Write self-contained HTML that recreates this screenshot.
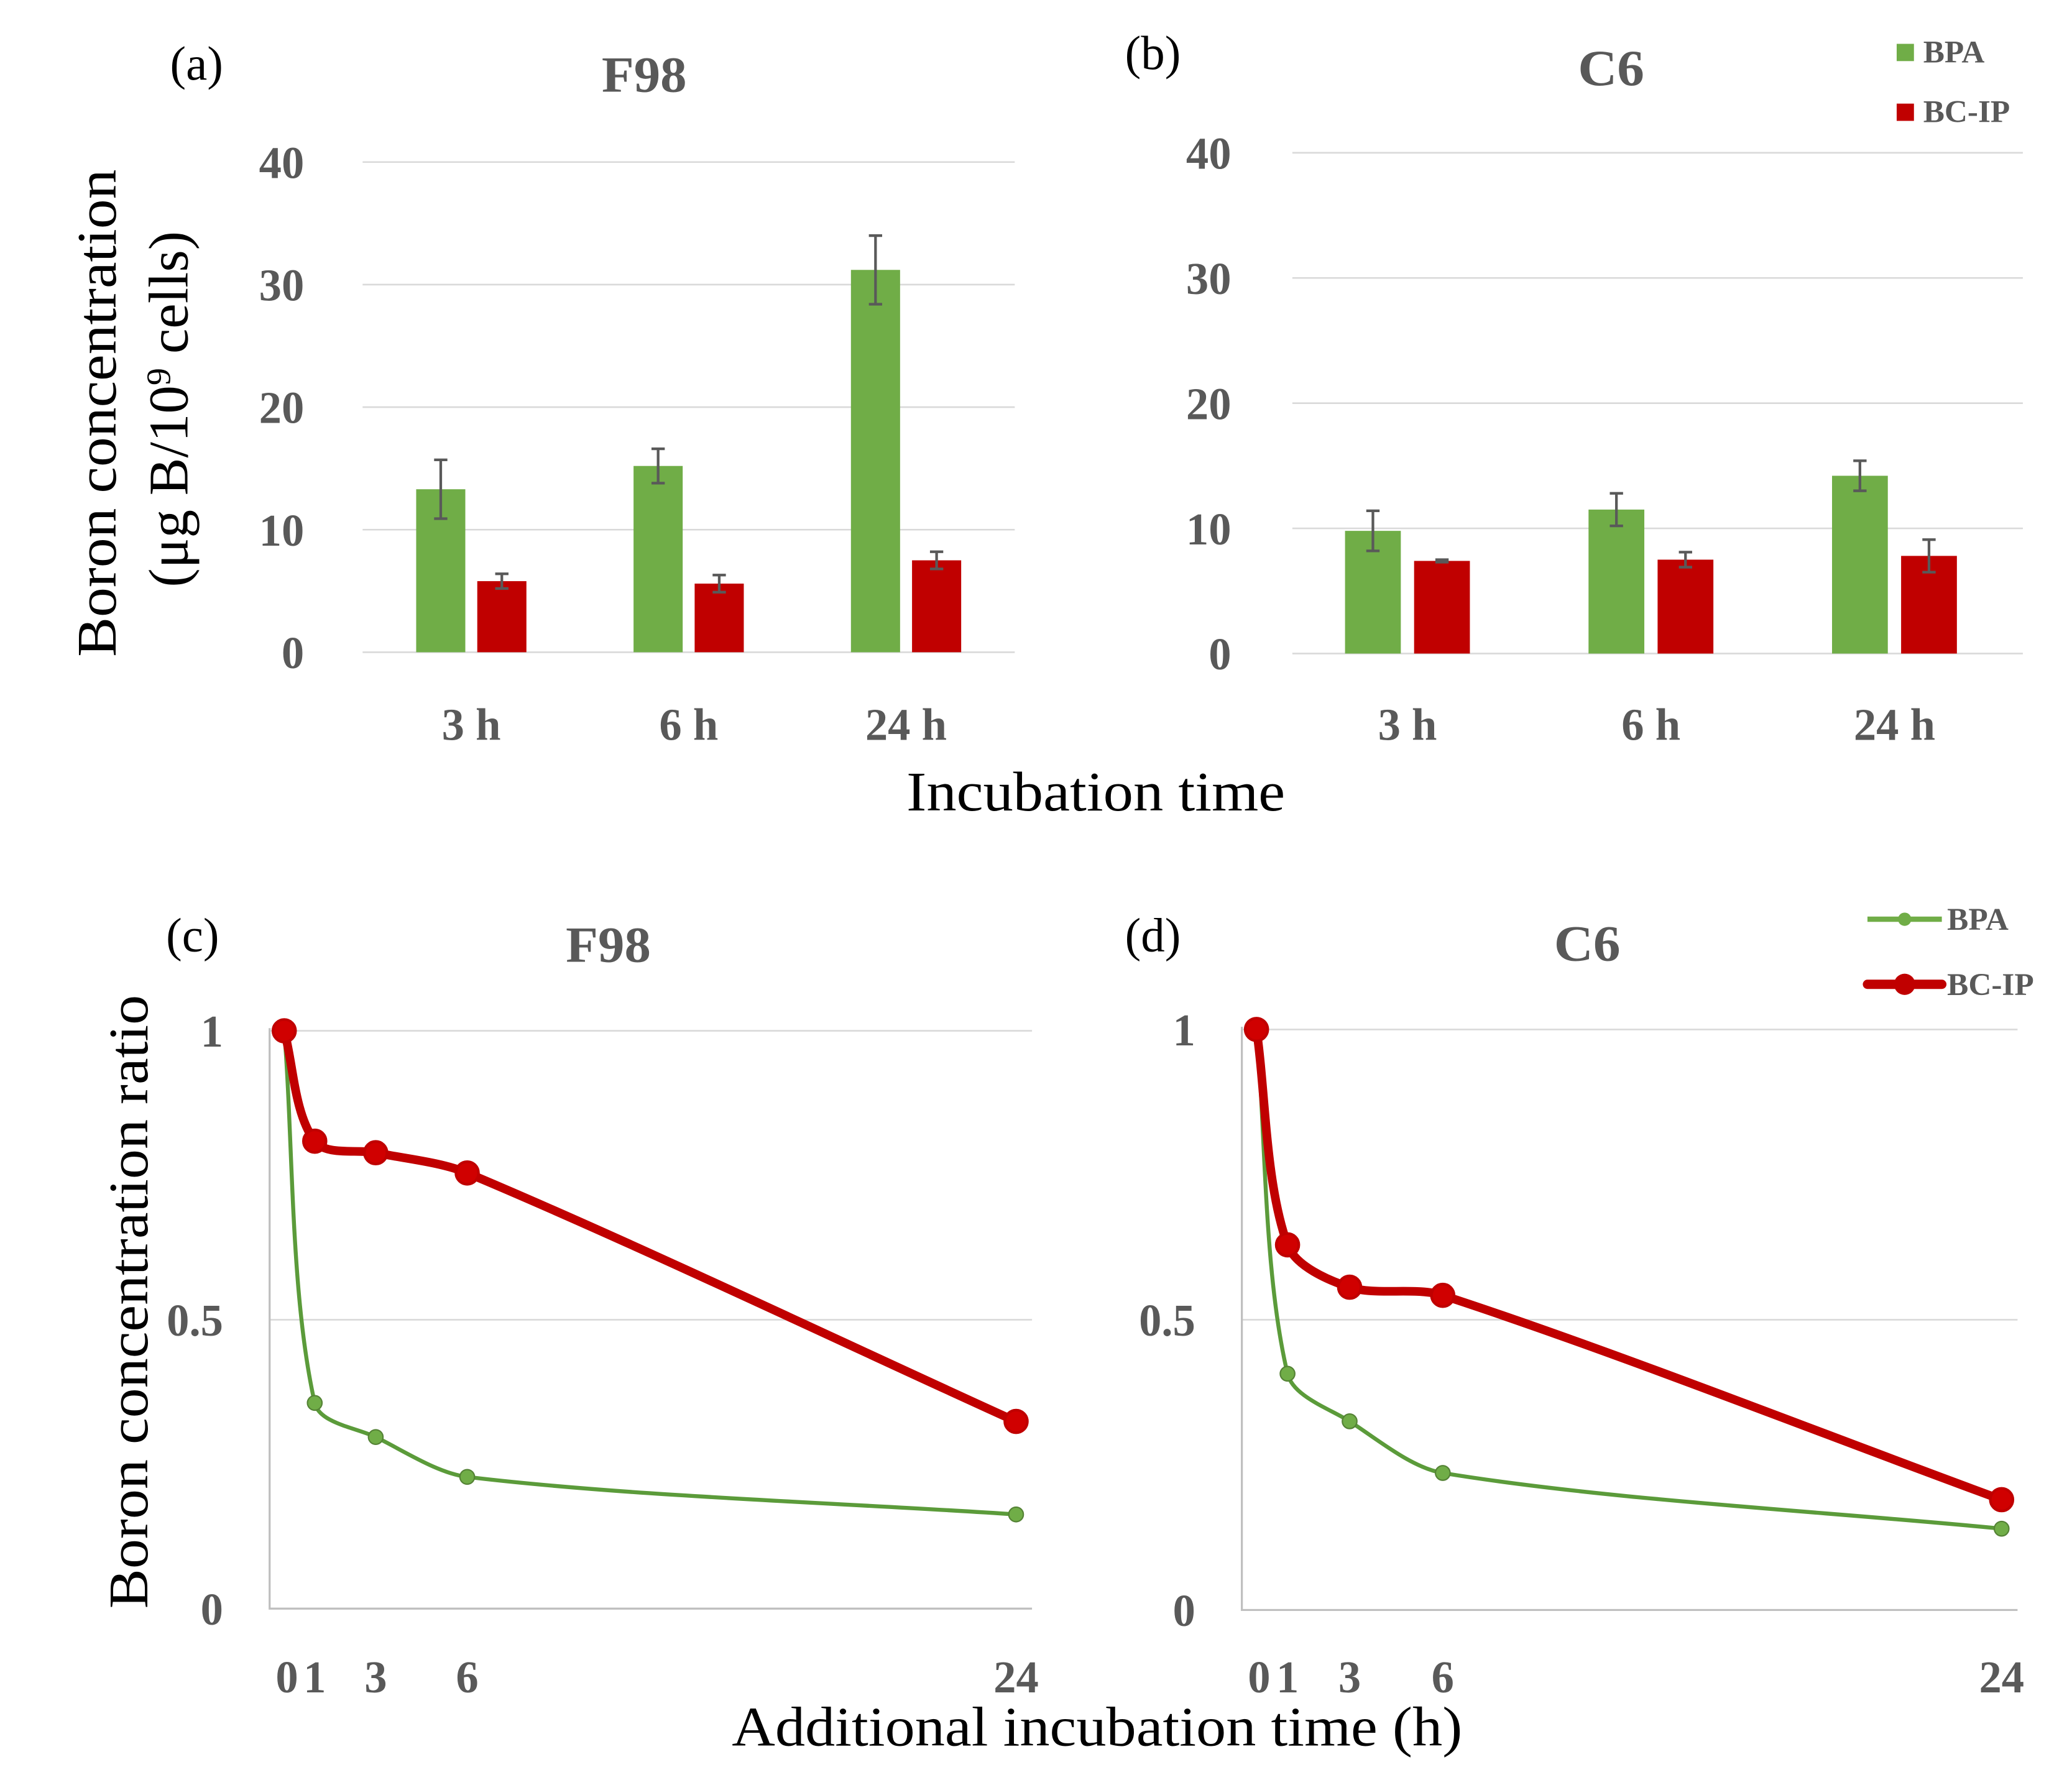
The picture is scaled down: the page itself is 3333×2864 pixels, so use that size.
<!DOCTYPE html>
<html><head><meta charset="utf-8"><style>
html,body{margin:0;padding:0;background:#fff;}
svg{display:block;}
.tk{font-family:"Liberation Serif",serif;font-weight:bold;fill:#595959;font-size:34px;}
.ttl{font-family:"Liberation Serif",serif;font-weight:bold;fill:#595959;font-size:38px;}
.lab{font-family:"Liberation Serif",serif;fill:#000;font-size:42px;}
.pl{font-family:"Liberation Serif",serif;fill:#000;font-size:36px;}
.lg{font-family:"Liberation Serif",serif;font-weight:bold;fill:#595959;font-size:24px;}
</style></head><body>
<svg id="fig" width="3333" height="2864" viewBox="0 0 1560 1340" preserveAspectRatio="none" xmlns="http://www.w3.org/2000/svg">
<g id="static">
<text class="pl" x="148" y="60" text-anchor="middle">(a)</text>
<text class="pl" x="868" y="52" text-anchor="middle">(b)</text>
<text class="pl" x="145" y="716" text-anchor="middle">(c)</text>
<text class="pl" x="868" y="716" text-anchor="middle">(d)</text>
<text class="ttl" x="485" y="69" text-anchor="middle" textLength="64" lengthAdjust="spacingAndGlyphs">F98</text>
<text class="ttl" x="1213" y="64" text-anchor="middle" textLength="50" lengthAdjust="spacingAndGlyphs">C6</text>
<text class="ttl" x="458" y="724" text-anchor="middle" textLength="64" lengthAdjust="spacingAndGlyphs">F98</text>
<text class="ttl" x="1195" y="723" text-anchor="middle" textLength="50" lengthAdjust="spacingAndGlyphs">C6</text>
<text class="lab" x="825" y="610" text-anchor="middle" textLength="285" lengthAdjust="spacingAndGlyphs">Incubation time</text>
<text class="lab" x="826" y="1314" text-anchor="middle" textLength="550" lengthAdjust="spacingAndGlyphs">Additional incubation time (h)</text>
<text class="lab" transform="translate(87,311) rotate(-90)" text-anchor="middle" textLength="367" lengthAdjust="spacingAndGlyphs">Boron concentration</text>
<text class="lab" transform="translate(141,308) rotate(-90)" text-anchor="middle" textLength="268" lengthAdjust="spacingAndGlyphs">(μg B/10<tspan dy="-13" font-size="26">9</tspan><tspan dy="13"> cells)</tspan></text>
<text class="lab" transform="translate(111,980) rotate(-90)" text-anchor="middle" textLength="462" lengthAdjust="spacingAndGlyphs">Boron concentration ratio</text>
<rect x="1428" y="33" width="13" height="13" fill="#70AD47"/>
<text class="lg" x="1448" y="47">BPA</text>
<rect x="1428" y="78" width="13" height="13" fill="#C00000"/>
<text class="lg" x="1448" y="92">BC-IP</text>
<line x1="1406" y1="692" x2="1462" y2="692" stroke="#70AD47" stroke-width="4"/>
<circle cx="1434" cy="692" r="5" fill="#70AD47"/>
<text class="lg" x="1466" y="700">BPA</text>
<line x1="1406" y1="741" x2="1462" y2="741" stroke="#C00000" stroke-width="7" stroke-linecap="round"/>
<circle cx="1434" cy="741" r="8" fill="#C00000"/>
<text class="lg" x="1466" y="749">BC-IP</text>
</g>
</svg>
<script>
// Bar chart data
const barCats = ["3 h", "6 h", "24 h"];
const f98Bpa = [13.3, 15.2, 31.2];
const f98BpaErr = [2.4, 1.4, 2.8];
const f98Bcip = [5.8, 5.6, 7.5];
const f98BcipErr = [0.6, 0.7, 0.7];
const c6Bpa = [9.8, 11.5, 14.2];
const c6BpaErr = [1.6, 1.3, 1.2];
const c6Bcip = [7.4, 7.5, 7.8];
const c6BcipErr = [0.1, 0.6, 1.3];
const barTicks = [0, 10, 20, 30, 40];
// Line chart data
const lineTimes = [0, 1, 3, 6, 24];
const lineTickLabels = ["0", "1", "3", "6", "24"];
const f98BpaRatio = [1, 0.356, 0.297, 0.228, 0.163];
const f98BcipRatio = [1, 0.809, 0.789, 0.754, 0.324];
const c6BpaRatio = [1, 0.407, 0.325, 0.236, 0.14];
const c6BcipRatio = [1, 0.629, 0.556, 0.542, 0.19];
const ratioTicks = [0, 0.5, 1];

const NS = "http://www.w3.org/2000/svg";
const svg = document.getElementById("fig");
function mk(tag, attrs, parent) {
  const e = document.createElementNS(NS, tag);
  for (const k in attrs) e.setAttribute(k, attrs[k]);
  (parent || svg).appendChild(e);
  return e;
}

function barPanel(p, bpa, bpaErr, bcip, bcipErr, id) {
  const y = v => p.y0 - (v / 40) * (p.y0 - p.y40);
  barTicks.forEach(t => {
    const l = mk("line", {x1: p.x0, x2: p.x1, y1: y(t), y2: y(t), stroke: "#d9d9d9", "stroke-width": 1.2});
    
    
    const tx = mk("text", {x: p.tickX, y: y(t) + 12, "text-anchor": "end", class: "tk"});
    tx.textContent = t;
    
    
  });
  const gw = (p.x1 - p.x0) / 3;
  barCats.forEach((c, i) => {
    const cx = p.x0 + gw * (i + 0.5) + p.shift;
    const series = [[bpa[i], bpaErr[i], "#70AD47", cx - p.gap / 2 - p.bw, "bpa"], [bcip[i], bcipErr[i], "#C00000", cx + p.gap / 2, "bcip"]];
    series.forEach(s => {
      const r = mk("rect", {x: s[3], y: y(s[0]), width: p.bw, height: p.y0 - y(s[0]), fill: s[2]});
      
      
      const ex = s[3] + p.bw / 2;
      const e = mk("path", {d: `M${ex},${y(s[0] + s[1])}V${y(s[0] - s[1])}M${ex - 5},${y(s[0] + s[1])}h10M${ex - 5},${y(s[0] - s[1])}h10`, stroke: "#595959", "stroke-width": 2, fill: "none"});
      
      
    });
    const t = mk("text", {x: cx, y: 557, "text-anchor": "middle", class: "tk"});
    t.textContent = c;
    
    
  });
}
barPanel({x0: 273, x1: 764, y0: 491, y40: 122, tickX: 229, bw: 37, gap: 9, shift: 0}, f98Bpa, f98BpaErr, f98Bcip, f98BcipErr, "panel-a");
barPanel({x0: 973, x1: 1523, y0: 492, y40: 115, tickX: 927, bw: 42, gap: 10, shift: -5}, c6Bpa, c6BpaErr, c6Bcip, c6BcipErr, "panel-b");

// cardinal-style spline: tangent direction from neighbours, handle length from segment length
function smooth(pts) {
  const n = pts.length;
  const dir = [];
  for (let i = 0; i < n; i++) {
    const a = pts[Math.max(0, i - 1)], b = pts[Math.min(n - 1, i + 1)];
    const dx = b[0] - a[0], dy = b[1] - a[1], L = Math.hypot(dx, dy) || 1;
    dir.push([dx / L, dy / L]);
  }
  let d = `M${pts[0][0]},${pts[0][1]}`;
  for (let i = 0; i < n - 1; i++) {
    const p1 = pts[i], p2 = pts[i + 1];
    const L = Math.hypot(p2[0] - p1[0], p2[1] - p1[1]) * 0.3;
    d += `C${p1[0] + dir[i][0] * L},${p1[1] + dir[i][1] * L} ${p2[0] - dir[i + 1][0] * L},${p2[1] - dir[i + 1][1] * L} ${p2[0]},${p2[1]}`;
  }
  return d;
}

function linePanel(p, bpa, bcip, id) {
  const x = t => p.xa + t * (p.xb - p.xa) / 24;
  const y = v => p.y0 - v * (p.y0 - p.y1);
  ratioTicks.forEach(t => {
    if (t > 0) {
      const l = mk("line", {x1: p.axL, x2: p.axR, y1: y(t), y2: y(t), stroke: "#d9d9d9", "stroke-width": 1.2});
      
      
    }
    const tx = mk("text", {x: p.tickX, y: y(t) + 12, "text-anchor": "end", class: "tk"});
    tx.textContent = t;
    
    
  });
  const ax = mk("path", {d: `M${p.axL},${p.y1 - 2}V${p.y0}H${p.axR}`, stroke: "#bfbfbf", "stroke-width": 1.5, fill: "none"});
  
  
  lineTimes.forEach((t, i) => {
    const tx = mk("text", {x: x(t) + (i === 0 ? 2 : 0), y: 1274, "text-anchor": "middle", class: "tk"});
    tx.textContent = lineTickLabels[i];
    
    
  });
  const gp = lineTimes.map((t, i) => [x(t), y(bpa[i])]);
  const g = mk("path", {d: smooth(gp), stroke: "#5B9B3A", "stroke-width": 3, fill: "none"});
  
  
  gp.forEach(q => {
    const c = mk("circle", {cx: q[0], cy: q[1], r: 5.5, fill: "#70AD47", stroke: "#548235", "stroke-width": 1});
    
    
  });
  const rp = lineTimes.map((t, i) => [x(t), y(bcip[i])]);
  const r = mk("path", {d: smooth(rp), stroke: "#C00000", "stroke-width": 6.5, fill: "none", "stroke-linejoin": "round"});
  
  
  rp.forEach(q => {
    const c = mk("circle", {cx: q[0], cy: q[1], r: 8.5, fill: "#D00000", stroke: "#C00000", "stroke-width": 2});
    
    
  });
}
linePanel({xa: 214, xb: 765, y0: 1211, y1: 776, axL: 203, axR: 777, tickX: 168}, f98BpaRatio, f98BcipRatio, "panel-c");
linePanel({xa: 946, xb: 1507, y0: 1212, y1: 775, axL: 935, axR: 1519, tickX: 900}, c6BpaRatio, c6BcipRatio, "panel-d");
</script>
</body></html>
